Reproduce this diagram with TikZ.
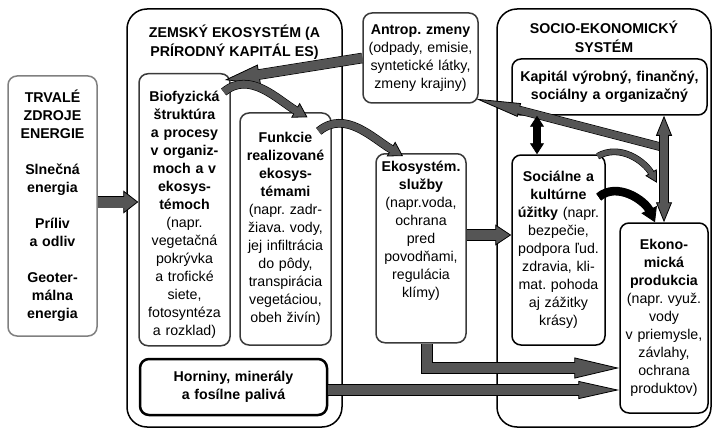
\documentclass[tikz,border=0pt]{standalone}
\usepackage{fontspec}
\setmainfont{Liberation Sans}
\usetikzlibrary{arrows.meta,calc}
\definecolor{arrgray}{HTML}{555555}
\definecolor{edgegray}{HTML}{3A3A3A}
\definecolor{srcgray}{HTML}{808080}
\tikzset{
  box/.style={draw=edgegray, line width=1.5pt, rounded corners=9pt, align=center, inner sep=2pt, font=\fontsize{14.2}{18}\selectfont\frenchspacing},
  boldbox/.style={box, font=\fontsize{14.2}{18}\selectfont\frenchspacing\bfseries},
  title/.style={align=center, font=\fontsize{14.2}{19}\selectfont\bfseries},
  bigbox/.style={draw=black, line width=1.5pt, rounded corners=20pt},
  fat/.style n args={4}{line width=#1, draw=#4,
    -{Triangle[length=#2,width=#3,fill=#4,color=black,line width=0.8pt]},
    preaction={draw=black, line width=#1+1.6pt, -, shorten >=#2-1pt},
    postaction={draw=#4, line width=#1, -, shorten >=#2-2pt}},
  fatdbl/.style n args={4}{line width=#1, draw=#4,
    {Triangle[length=#2,width=#3,fill=#4,color=black,line width=0.8pt]}-{Triangle[length=#2,width=#3,fill=#4,color=black,line width=0.8pt]},
    preaction={draw=black, line width=#1+1.6pt, -, shorten >=#2-1pt, shorten <=#2-1pt},
    postaction={draw=#4, line width=#1, -, shorten >=#2-2pt, shorten <=#2-2pt}}
}
\begin{document}
\begin{tikzpicture}[x=1pt,y=-1pt]
        \useasboundingbox (0,0) rectangle (713,428);
        \draw[bigbox] (127,9) rectangle (342,427);
        \draw[bigbox] (497,9) rectangle (711,427);
        \node[title] (zemt) at (234.5,42) {ZEMSKÝ EKOSYSTÉM (A\\PRÍRODNÝ KAPITÁL ES)};
        \node[title] (soct) at (604,37) {SOCIO-EKONOMICKÝ\\SYSTÉM};
        \node[boldbox, draw=srcgray, minimum width=89pt, minimum height=260pt, text width=85pt] (trv) at (52.5,206)
          {TRVALÉ\\ZDROJE\\ENERGIE\\[18pt]Slnečná\\energia\\[18pt]Príliv\\a odliv\\[18pt]Geoter-\\málna\\energia};
        \node[box, anchor=north, text width=87pt, text height=26pt, text depth=242pt] (bio) at (184.5,73)
          {\textbf{Biofyzická}\\\textbf{štruktúra}\\\textbf{a procesy}\\\textbf{v organiz-}\\\textbf{moch a v}\\\textbf{ekosys-}\\\textbf{témoch}\\(napr.\\vegetačná\\pokrývka\\a trofické\\siete,\\fotosyntéza\\a rozklad)};
        \node[box, minimum height=232pt, text width=87pt] (fun) at (285.5,229)
          {\textbf{Funkcie}\\\textbf{realizované}\\\textbf{ekosys-}\\\textbf{témami}\\(napr. zadr-\\žiava. vody,\\jej infiltrácia\\do pôdy,\\transpirácia\\vegetáciou,\\obeh živín)};
        \node[boldbox, draw=black, line width=2.5pt, minimum height=56pt, text width=183pt] (hor) at (233.5,387)
          {Horniny, minerály\\a fosílne palivá};
        \node[box, minimum height=90pt, text width=111pt] (ant) at (420.5,58)
          {\textbf{Antrop. zmeny}\\(odpady, emisie,\\syntetické látky,\\zmeny krajiny)};
        \node[box, anchor=north, text width=86pt, text height=16pt, text depth=169pt] (eko) at (421,153)
          {\textbf{Ekosystém.}\\\textbf{služby}\\(napr.voda,\\ochrana\\pred\\povodňami,\\regulácia\\klímy)};
        \node[boldbox, draw=black, minimum height=56pt, text width=191pt] (kap) at (609.5,87)
          {Kapitál výrobný, finančný,\\sociálny a organizačný};
        \node[box, draw=black, minimum height=190pt, text width=89pt] (sku) at (558.5,250)
          {\textbf{Sociálne a}\\\textbf{kultúrne}\\\textbf{úžitky} (napr.\\bezpečie,\\podpora ľud.\\zdravia, kli-\\mat. pohoda\\aj zážitky\\krásy)};
        \node[box, draw=black, minimum height=190pt, text width=84pt] (eco) at (664,318)
          {\textbf{Ekono-}\\\textbf{mická}\\\textbf{produkcia}\\(napr. využ.\\vody\\v priemysle,\\závlahy,\\ochrana\\produktov)};
        \coordinate (vtop) at (eco.north |- kap.south);
        \coordinate (vbot) at (eco.north);
        \draw[fat={11pt}{15pt}{23pt}{arrgray}] (trv.east |- 0,202) -- (bio.west |- 0,202);
        \draw[fat={9pt}{35pt}{20pt}{arrgray}] (ant.west) -- ($(bio.north east)+(-6,7)$);
        \draw[fat={7pt}{14pt}{17pt}{arrgray}] ($(bio.north east)+(-7,19)$) to[out=40,in=150] ($(fun.north)+(22,5)$);
        \draw[fat={7pt}{14pt}{17pt}{arrgray}] ($(fun.north east)+(-13,19)$) to[out=40,in=150] ($(eko.north)+(-18,3)$);
        \draw[fat={10pt}{16pt}{21pt}{arrgray}] (eko.east |- 0,235) -- (sku.west |- 0,235);
        \draw[fat={10pt}{45pt}{21pt}{arrgray}] ([xshift=6pt]eko.south) |- (eco.west |- 0,368);
        \draw[fat={10pt}{41pt}{18pt}{arrgray}] (hor.east |- 0,390) -- (eco.west |- 0,390);
        \draw[fat={7pt}{45pt}{14pt}{arrgray}] ($(vtop)!0.3!(vbot)$) -- ($(ant.south east)+(-3,-5)$);
        \draw[fatdbl={8pt}{20pt}{16pt}{arrgray}] (vtop) -- (vbot);
        \draw[fatdbl={6pt}{11pt}{14pt}{black}] ([xshift=-21.5pt]sku.north |- kap.south) -- ([xshift=-21.5pt]sku.north);
        \draw[fat={5pt}{12pt}{13pt}{arrgray}] ($(sku.north east)+(-8,2)$) to[out=30,in=120] ($(vtop)!0.63!(vbot)+(-7,0)$);
        \draw[fat={7pt}{14pt}{17pt}{black}] ($(sku.east)+(-7,-53)$) to[out=40,in=115] ($(eco.north)+(-9,0)$);
      \end{tikzpicture}
\end{document}
